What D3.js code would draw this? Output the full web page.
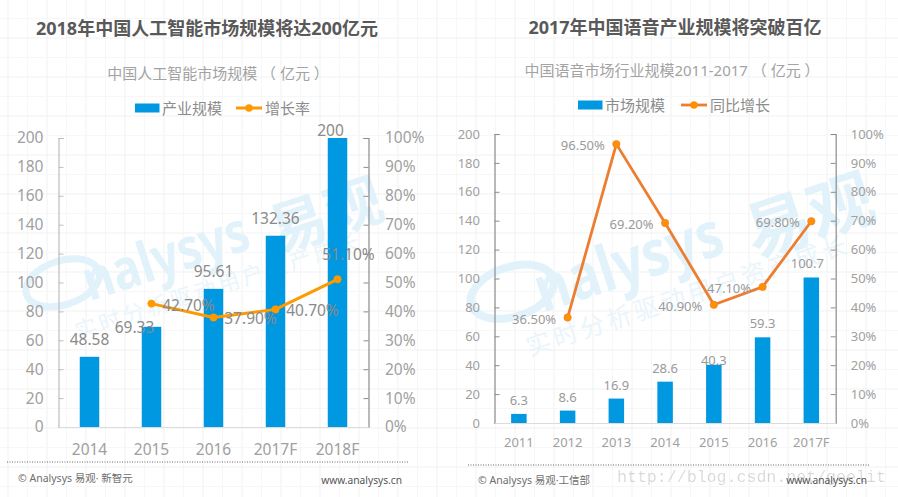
<!DOCTYPE html>
<html><head><meta charset="utf-8">
<style>html,body{margin:0;padding:0;background:#fff}svg{display:block}text{font-family:"Noto Sans","Noto Sans CJK SC",sans-serif}</style>
<script src="https://cdnjs.cloudflare.com/ajax/libs/d3/7.8.5/d3.min.js"></script>
</head><body><svg id="c" width="898" height="497"></svg>
<script>
const aiYears=["2014","2015","2016","2017F","2018F"];
const aiSize=[48.58,69.33,95.61,132.36,200];
const aiGrowth=[null,42.7,37.9,40.7,51.1];
const voiceYears=["2011","2012","2013","2014","2015","2016","2017F"];
const voiceSize=[6.3,8.6,16.9,28.6,40.3,59.3,100.7];
const voiceGrowth=[null,36.5,96.5,69.2,40.9,47.1,69.8];
const sizeTicks=[0,20,40,60,80,100,120,140,160,180,200];
const pctTicks=[0,10,20,30,40,50,60,70,80,90,100];

const svg=d3.select("#c");
// faint paper grid
const grid=svg.append("g");
d3.range(8,898,19.5).forEach((x,i)=>grid.append("line").attr("x1",x).attr("x2",x).attr("y1",0).attr("y2",497).attr("stroke",i%2?"#f7f7f7":"#f1f1f1").attr("stroke-width",1));
d3.range(-1,497,19.5).forEach((y,i)=>grid.append("line").attr("y1",y).attr("y2",y).attr("x1",0).attr("x2",898).attr("stroke",i%2?"#f7f7f7":"#f1f1f1").attr("stroke-width",1));

function watermark(x,y,k){
  const g=svg.append("g").attr("transform",`translate(${x},${y}) rotate(-18) scale(${k})`).attr("fill","#e2f2fa");
  g.append("ellipse").attr("cx",31).attr("cy",-6).attr("rx",38).attr("ry",22).attr("fill","none").attr("stroke","#e2f2fa").attr("stroke-width",7);
  g.append("text").attr("x",51).attr("y",20).attr("font-size",56).attr("font-weight",700).attr("textLength",172).attr("lengthAdjust","spacingAndGlyphs").text("nalysys");
  g.append("text").attr("x",244).attr("y",32).attr("font-size",58).attr("font-weight",700).text("易观");
  g.append("text").attr("x",28).attr("y",53).attr("font-size",22).attr("letter-spacing",3).attr("fill","#eaf5fb").text("实时分析驱动用户资产成长");
}
watermark(35,298,1);
watermark(481,309,1.13);

function chart(o){
  const x=d3.scaleBand().domain(o.cats).range([o.l,o.r]);
  const y=d3.scaleLinear().domain([0,200]).range([o.b,o.t]);
  const yp=d3.scaleLinear().domain([0,100]).range([o.b,o.t]);
  const tickFill="#a0a0a0";
  const style=(g,col)=>{g.selectAll("path").attr("stroke",col).attr("stroke-width",1.2);g.selectAll("line").attr("stroke",col);g.selectAll("text").attr("fill",tickFill).attr("font-size",o.fs).attr("font-family",null);};
  svg.append("g").attr("transform",`translate(${o.l},0)`).call(d3.axisLeft(y).tickValues(sizeTicks).tickSize(-5).tickSizeOuter(-5).tickPadding(o.padL)).call(style,o.leftCol);
  svg.append("g").attr("transform",`translate(${o.r},0)`).call(d3.axisRight(yp).tickValues(pctTicks).tickFormat(d=>d+"%").tickSize(-5).tickSizeOuter(-5).tickPadding(o.padR)).call(style,"#8c8c8c");
  svg.append("g").attr("transform",`translate(0,${o.b})`).call(d3.axisBottom(x).tickSize(0).tickPadding(o.padB)).call(style,"#dcdcdc");
  // bars
  svg.append("g").selectAll("rect").data(o.size).join("rect")
    .attr("x",(d,i)=>x(o.cats[i])+x.bandwidth()/2-o.bw/2).attr("width",o.bw)
    .attr("y",d=>y(d)).attr("height",d=>o.b-y(d)).attr("fill","#0098e0");
  // line
  const pts=o.growth.map((d,i)=>({d,c:o.cats[i]})).filter(p=>p.d!=null);
  const line=d3.line().x(p=>x(p.c)+x.bandwidth()/2).y(p=>yp(p.d));
  svg.append("path").datum(pts).attr("d",line).attr("fill","none").attr("stroke",o.lineCol).attr("stroke-width",o.lw).attr("stroke-linejoin","round");
  svg.append("g").selectAll("circle").data(pts).join("circle").attr("cx",p=>x(p.c)+x.bandwidth()/2).attr("cy",p=>yp(p.d)).attr("r",3.7).attr("fill",o.dotCol).attr("stroke",o.lineCol).attr("stroke-width",.6);
  // data labels
  svg.append("g").selectAll("text").data(o.size).join("text")
    .attr("x",(d,i)=>x(o.cats[i])+x.bandwidth()/2+o.sizeOff[i][0]).attr("y",(d,i)=>y(d)+o.sizeOff[i][1])
    .attr("text-anchor","middle").attr("dominant-baseline","central").attr("font-size",o.fs).attr("fill",o.labCol).text(d=>d);
  svg.append("g").selectAll("text").data(pts).join("text")
    .attr("x",(p,i)=>x(p.c)+x.bandwidth()/2+o.pctOff[i][0]).attr("y",(p,i)=>yp(p.d)+o.pctOff[i][1])
    .attr("text-anchor","middle").attr("dominant-baseline","central").attr("font-size",o.fs).attr("fill",o.labCol).text(p=>p.d.toFixed(2)+"%");
  // titles
  svg.append("text").attr("x",o.titleX).attr("y",o.titleY).attr("text-anchor","middle").attr("dominant-baseline","central").attr("font-size",o.titleFs).attr("font-weight",700).attr("fill","#595959").text(o.title);
  svg.append("text").attr("x",o.subX).attr("y",o.subY).attr("text-anchor","middle").attr("dominant-baseline","central").attr("font-size",15).attr("fill","#a3a3a3").text(o.sub);
  // legend
  const lg=o.leg;
  svg.append("rect").attr("x",lg.x0).attr("y",lg.y-4.5).attr("width",24.5).attr("height",9).attr("fill","#0098e0");
  svg.append("text").attr("x",lg.x0+27).attr("y",lg.y).attr("dominant-baseline","central").attr("font-size",15).attr("fill","#8c8c8c").text(o.names[0]);
  svg.append("line").attr("x1",lg.x1).attr("x2",lg.x1+26).attr("y1",lg.y).attr("y2",lg.y).attr("stroke",o.lineCol).attr("stroke-width",o.lw);
  svg.append("circle").attr("cx",lg.x1+13).attr("cy",lg.y).attr("r",3.7).attr("fill",o.dotCol);
  svg.append("text").attr("x",lg.x1+29).attr("y",lg.y).attr("dominant-baseline","central").attr("font-size",15).attr("fill","#8c8c8c").text(o.names[1]);
  // footer
  svg.append("line").attr("x1",o.f.x0).attr("x2",o.f.x1).attr("y1",o.f.y).attr("y2",o.f.y).attr("stroke","#666").attr("stroke-width",1).attr("stroke-dasharray","1 1.5");
  svg.append("text").attr("x",o.f.tx).attr("y",o.f.ty).attr("dominant-baseline","central").attr("font-size",10.5).attr("fill","#6e6e6e").text(o.f.src);
  svg.append("text").attr("x",o.f.ux).attr("y",o.f.uy).attr("text-anchor","end").attr("dominant-baseline","central").attr("font-size",10.2).attr("fill","#555").text("www.analysys.cn");
}
chart({cats:aiYears,size:aiSize,growth:aiGrowth,l:58.5,r:368.5,t:138,b:427,bw:19.5,fs:15.5,padL:15,padR:16.5,padB:17,leftCol:"#bdbdbd",
  lineCol:"#ff9900",dotCol:"#ff9900",lw:3,labCol:"#8a8a8a",
  sizeOff:[[0,-18],[-17,0],[0,-18],[0,-18],[-7,-8]],pctOff:[[37,1],[37,1],[37,1],[11,-25]],
  title:"2018年中国人工智能市场规模将达200亿元",titleX:207,titleY:28,titleFs:18,
  sub:"中国人工智能市场规模 （ 亿元 ）",subX:218,subY:73,names:["产业规模","增长率"],leg:{x0:135,x1:236,y:108},
  f:{x0:7,x1:408,y:462,tx:18,ty:478,ux:402,uy:480,src:"© Analysys 易观· 新智元"}});
chart({cats:voiceYears,size:voiceSize,growth:voiceGrowth,l:494.5,r:835.7,t:134,b:423,bw:15.5,fs:13,padL:14.5,padR:15,padB:15,leftCol:"#8c8c8c",
  lineCol:"#ed7d31",dotCol:"#ff9000",lw:2.8,labCol:"#9a9a9a",
  sizeOff:[[0,-14],[0,-14],[0,-14],[0,-14],[0,-5],[0,-14],[-4,-14]],pctOff:[[-33.5,1],[-33.5,1],[-33.5,1],[-33.5,1],[-33.5,1],[-33.5,1]],
  title:"2017年中国语音产业规模将突破百亿",titleX:675,titleY:27,titleFs:18,
  sub:"中国语音市场行业规模2011-2017 （ 亿元 ）",subX:672,subY:70,names:["市场规模","同比增长"],leg:{x0:578,x1:681,y:105},
  f:{x0:468,x1:870,y:465,tx:478,ty:480,ux:867,uy:480,src:"© Analysys 易观·工信部"}});
svg.append("text").attr("x",617).attr("y",477).attr("dominant-baseline","central").attr("style",'font-family:"Liberation Mono",monospace').attr("font-size",16.6).attr("fill","#000").attr("fill-opacity",.16).text("http://blog.csdn.net/geelit");
</script></body></html>
